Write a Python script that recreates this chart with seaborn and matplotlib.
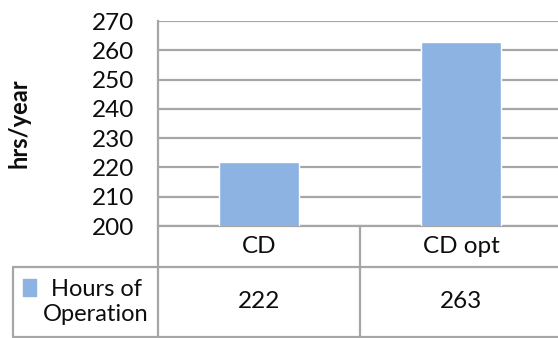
import numpy as np
import matplotlib
matplotlib.use("Agg")
import matplotlib.pyplot as plt
from matplotlib.patches import Rectangle
import seaborn as sns

# data
categories = ["CD", "CD opt"]
hours = [222, 263]
series_name = "Hours of\nOperation"
y_ticks = list(range(200, 271, 10))

bar_color = "#8db3e2"
line_color = "#a6a6a6"
txt_color = "#0d0d0d"

sns.set_style("white")
plt.rcParams["font.family"] = ["Lato", "DejaVu Sans"]

W, H = 558, 338
fig = plt.figure(figsize=(W / 100, H / 100), dpi=100)
# plot area in pixel units (left, top, right, bottom)
L, T, R, B = 158, 21, 562, 226
ax = fig.add_axes([L / W, 1 - B / H, (R - L) / W, (B - T) / H])

sns.barplot(x=categories, y=hours, color=bar_color, width=0.4,
            saturation=1, ax=ax, zorder=3)

ax.set_ylim(200, 270)
ax.set_xlim(-0.5, len(categories) - 0.5)
ax.set_yticks(y_ticks)
ax.tick_params(axis="y", length=0, pad=17, labelsize=17.5, labelcolor=txt_color)
ax.tick_params(axis="x", length=0, labelbottom=False)
ax.grid(axis="y", color=line_color, lw=1.6)
ax.set_axisbelow(True)
for s in ["top", "right", "bottom"]:
    ax.spines[s].set_visible(False)
ax.spines["left"].set_color(line_color)
ax.spines["left"].set_linewidth(1.6)
ax.set_xlabel("")
ax.set_ylabel("hrs/year", fontsize=17, fontweight="bold", color=txt_color)
ax.yaxis.set_label_coords(-(L - 30) / (R - L), 0.5)

# data table under the plot (axes-fraction coordinates)
ph, pw = B - T, R - L
def fy(py):
    return (B - py) / ph
def fx(px):
    return (px - L) / pw

row1_bot, row2_bot, tab_left = 267, 337, 13
kw = dict(color=line_color, lw=1.6, transform=ax.transAxes, clip_on=False)
ax.plot([0, 1.1], [fy(B), fy(B)], **kw)
ax.plot([fx(tab_left), 1.1], [fy(row1_bot), fy(row1_bot)], **kw)
ax.plot([fx(tab_left), 1.1], [fy(row2_bot), fy(row2_bot)], **kw)
ax.plot([fx(tab_left), fx(tab_left)], [fy(row1_bot), fy(row2_bot)], **kw)
ax.plot([0, 0], [0, fy(row2_bot)], **kw)
xt = ax.get_xaxis_transform()
for i in range(1, len(categories)):
    ax.plot([i - 0.5, i - 0.5], [0, fy(row2_bot)], color=line_color, lw=1.6,
            transform=xt, clip_on=False)

for i, (c, v) in enumerate(zip(categories, hours)):
    ax.text(i, fy((B + row1_bot) / 2), c, transform=xt, ha="center",
            va="center", fontsize=17.5, color=txt_color, clip_on=False)
    ax.text(i, fy((row1_bot + row2_bot) / 2), str(v), transform=xt,
            ha="center", va="center", fontsize=17.5, color=txt_color, clip_on=False)

ax.add_patch(Rectangle((fx(23), fy(296)), fx(36) - fx(23), fy(279) - fy(296),
                       transform=ax.transAxes, color=bar_color, clip_on=False))
ax.text(fx(96), fy((row1_bot + row2_bot) / 2), series_name,
        transform=ax.transAxes, ha="center", va="center", fontsize=17,
        color=txt_color, linespacing=1.25, clip_on=False)

fig.savefig("out.png", dpi=100)
